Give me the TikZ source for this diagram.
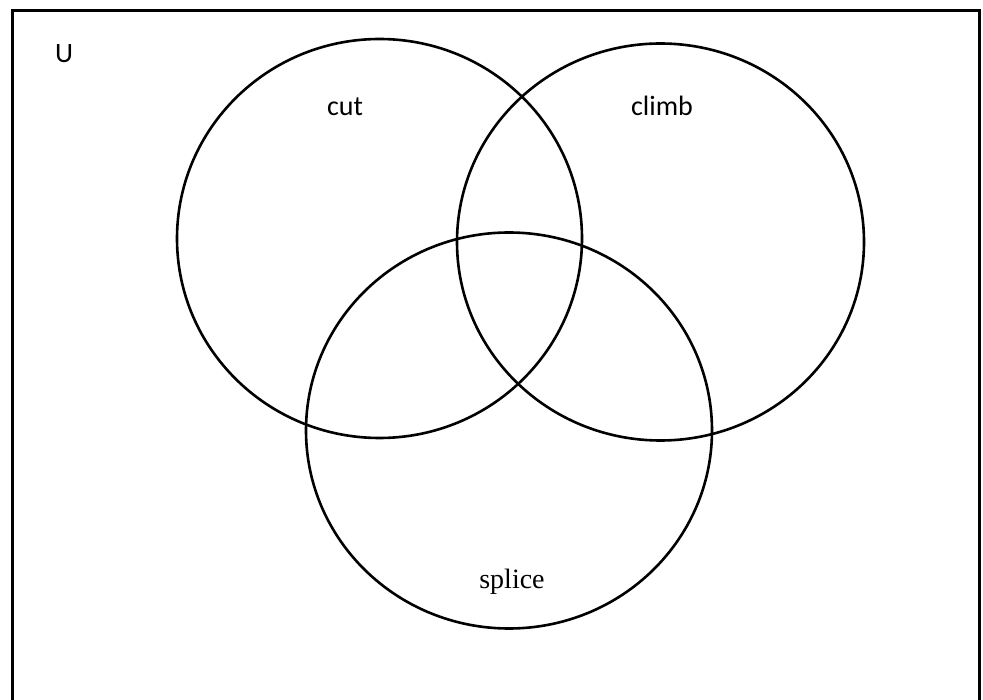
\documentclass[tikz,border=0pt]{standalone}
\usepackage{fontspec}
\setmainfont{Liberation Serif}
\newfontfamily\calib{Carlito}
\begin{document}
\begin{tikzpicture}[x=1pt,y=-1pt,
  setline/.style={line width=2.6pt},
  boxline/.style={line width=3pt},
  sanslabel/.style={font=\calib\fontsize{28}{33}\selectfont, anchor=base, inner sep=0pt},
  seriflabel/.style={font=\fontsize{28}{33}\selectfont, anchor=base, inner sep=0pt}]
\useasboundingbox (0,0) rectangle (983,700);
\draw[boxline] (12,11) rectangle (979,720);
\draw[setline] (379.5,238.5) ellipse [x radius=202.5, y radius=199.5];
\draw[setline] (660.5,242) ellipse [x radius=203.5, y radius=198.5];
\draw[setline] (509,430.5) ellipse [x radius=203, y radius=198];
\node[sanslabel] (u) at (64,63) {U};
\node[sanslabel] (cut) at (345,116) {cut};
\node[sanslabel] (climb) at (662,116) {climb};
\node[seriflabel] (splice) at (512,588) {splice};
\end{tikzpicture}
\end{document}
